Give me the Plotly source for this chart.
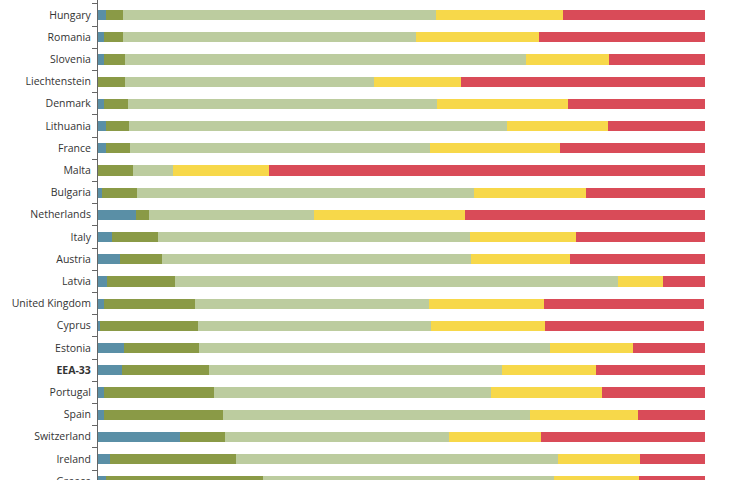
import plotly.graph_objects as go

countries = ["Hungary", "Romania", "Slovenia", "Liechtenstein", "Denmark", "Lithuania",
             "France", "Malta", "Bulgaria", "Netherlands", "Italy", "Austria", "Latvia",
             "United Kingdom", "Cyprus", "Estonia", "<b>EEA-33</b>", "Portugal", "Spain",
             "Switzerland", "Ireland", "Greece"]

seg1 = [1.3, 1.0, 1.0, 0.0, 1.0, 1.3, 1.3, 0.0, 0.7, 6.3, 2.3, 3.7, 1.4, 1.0, 0.4, 4.3, 4.0, 1.0, 1.0, 13.5, 2.0, 1.3]
seg2 = [2.8, 3.2, 3.5, 4.4, 4.0, 3.8, 4.0, 5.8, 5.7, 2.1, 7.6, 6.9, 11.3, 14.9, 16.0, 12.3, 14.3, 18.1, 19.6, 7.4, 20.7, 25.8]
seg3 = [51.6, 48.2, 66.0, 41.1, 50.9, 62.2, 49.4, 6.6, 55.6, 27.2, 51.4, 50.8, 72.9, 38.7, 38.4, 57.8, 48.3, 45.6, 50.5, 36.9, 53.1, 48.0]
seg4 = [20.9, 20.3, 13.7, 14.3, 21.6, 16.7, 21.4, 15.7, 18.4, 24.9, 17.4, 16.3, 7.5, 18.9, 18.8, 13.7, 15.4, 18.3, 17.9, 15.2, 13.5, 14.1]
seg5 = [23.4, 27.3, 15.9, 40.2, 22.6, 16.0, 24.0, 71.9, 19.6, 39.5, 21.3, 22.4, 6.9, 26.4, 26.3, 11.9, 18.0, 17.0, 11.0, 27.0, 10.7, 10.8]

series = [
    ("Category 1", seg1, "#5a8fa6"),
    ("Category 2", seg2, "#8a9a46"),
    ("Category 3", seg3, "#bccc9f"),
    ("Category 4", seg4, "#f7d84a"),
    ("Category 5", seg5, "#d94b58"),
]

fig = go.Figure()
for name, vals, color in series:
    fig.add_trace(go.Bar(
        y=countries, x=vals, name=name, orientation="h",
        marker=dict(color=color, line=dict(width=0)),
    ))

fig.update_layout(
    width=730, height=490,
    margin=dict(l=98, r=25, t=0, b=0),
    barmode="stack", bargap=0.54,
    showlegend=False,
    plot_bgcolor="white", paper_bgcolor="white",
    font=dict(family="Open Sans", size=10.5, color="#333333"),
)
fig.update_xaxes(visible=False, range=[0, 100])
fig.update_yaxes(
    type="category", categoryorder="array", categoryarray=countries,
    range=[21.396, -0.676],
    showline=True, linecolor="#666666", linewidth=1,
    ticks="outside", ticklen=5, tickcolor="#666666", tickson="boundaries",
    ticklabelstandoff=4,
    showgrid=False, zeroline=False,
    tickfont=dict(family="Open Sans", size=10.5, color="#333333"),
)

fig.write_html(
    "out.html",
    config={"displayModeBar": False},
    post_script="document.body.style.margin='0';document.body.style.overflow='hidden';document.documentElement.style.overflow='hidden';",
)
